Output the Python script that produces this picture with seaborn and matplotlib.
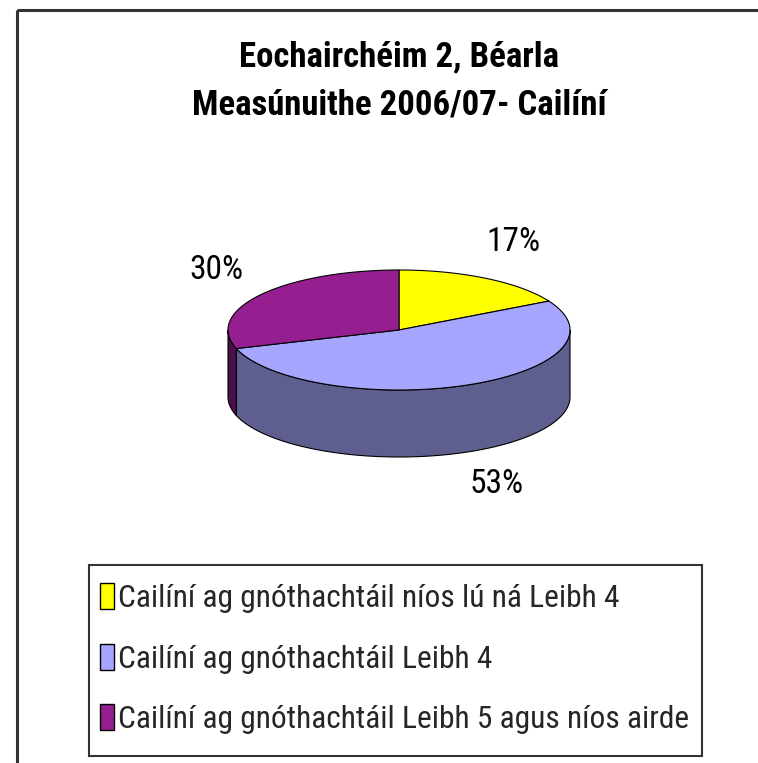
import numpy as np
import matplotlib
matplotlib.use("Agg")
import matplotlib.pyplot as plt
from matplotlib.patches import Polygon, Patch, Rectangle
import seaborn as sns

sns.set_theme(style="white")
plt.rcParams["font.family"] = ["Roboto Condensed", "Liberation Sans", "DejaVu Sans"]

title = "Eochairchéim 2, Béarla\nMeasúnuithe 2006/07- Cailíní"
categories = [
    "Cailíní ag gnóthachtáil níos lú ná Leibh 4",
    "Cailíní ag gnóthachtáil Leibh 4",
    "Cailíní ag gnóthachtáil Leibh 5 agus níos airde",
]
values = [17, 53, 30]
top_colors = ["#FFFF00", "#A6A6FF", "#951E90"]
side_colors = ["#80801A", "#5F5F8F", "#4B0F4A"]

W, H = 758, 763
fig = plt.figure(figsize=(W / 100, H / 100), dpi=100)
ax = fig.add_axes([0, 0, 1, 1])
ax.set_xlim(0, W)
ax.set_ylim(H, 0)
ax.axis("off")

# outer chart frame
ax.add_patch(Rectangle((17, 10), 760, 770, fill=False, edgecolor="#333333", lw=2.2))

# pie geometry (pixels)
cx, cy, rx, ry, depth = 399, 330, 171, 60, 67


def arc(a0, a1, dy=0, n=200):
    t = np.radians(np.linspace(a0, a1, n))
    return np.column_stack([cx + rx * np.cos(t), cy - ry * np.sin(t) + dy])


fracs = np.array(values) / sum(values)
starts = 90 - 360 * np.concatenate([[0], np.cumsum(fracs)[:-1]])
ends = starts - 360 * fracs

# side walls (front half: angles between -180 and 0)
for s, e, col in zip(starts, ends, side_colors):
    for off in (0, -360):
        a0 = min(s + off, 0)
        a1 = max(e + off, -180)
        if a0 > a1:
            top = arc(a0, a1)
            bot = arc(a1, a0, dy=depth)
            ax.add_patch(Polygon(np.vstack([top, bot]), closed=True, facecolor=col,
                                 edgecolor="black", lw=0.8))

# top faces
for s, e, col in zip(starts, ends, top_colors):
    pts = np.vstack([[cx, cy], arc(s, e), [cx, cy]])
    ax.add_patch(Polygon(pts, closed=True, facecolor=col, edgecolor="black", lw=0.8))

# percentage labels
for s, e, v in zip(starts, ends, values):
    m = np.radians((s + e) / 2)
    lx = cx + rx * 1.32 * np.cos(m)
    ly = cy - ry * 1.7 * np.sin(m)
    if np.sin(m) < 0:
        lx += 8
        ly += depth * 0.9
    ax.text(lx, ly, f"{v}%", ha="center", va="center", fontsize=24, color="black")

ax.text(399, 81, title, ha="center", va="center", fontsize=25, fontweight="bold",
        linespacing=1.55, color="black")

# legend: entries from matplotlib, box drawn separately for tight right padding
handles = [Patch(facecolor=c, edgecolor="black", lw=1) for c in top_colors]
ax.legend(handles, categories, loc="upper left", bbox_to_anchor=(100 / W, 1 - 583 / H),
          fontsize=22.7, frameon=False, handlelength=0.45, handleheight=0.9,
          handletextpad=0.12, labelspacing=0.97, borderpad=0, borderaxespad=0)
ax.add_patch(Rectangle((89, 565), 613, 191, fill=False, edgecolor="#333333", lw=1.5))

fig.savefig("out.png", dpi=100)
